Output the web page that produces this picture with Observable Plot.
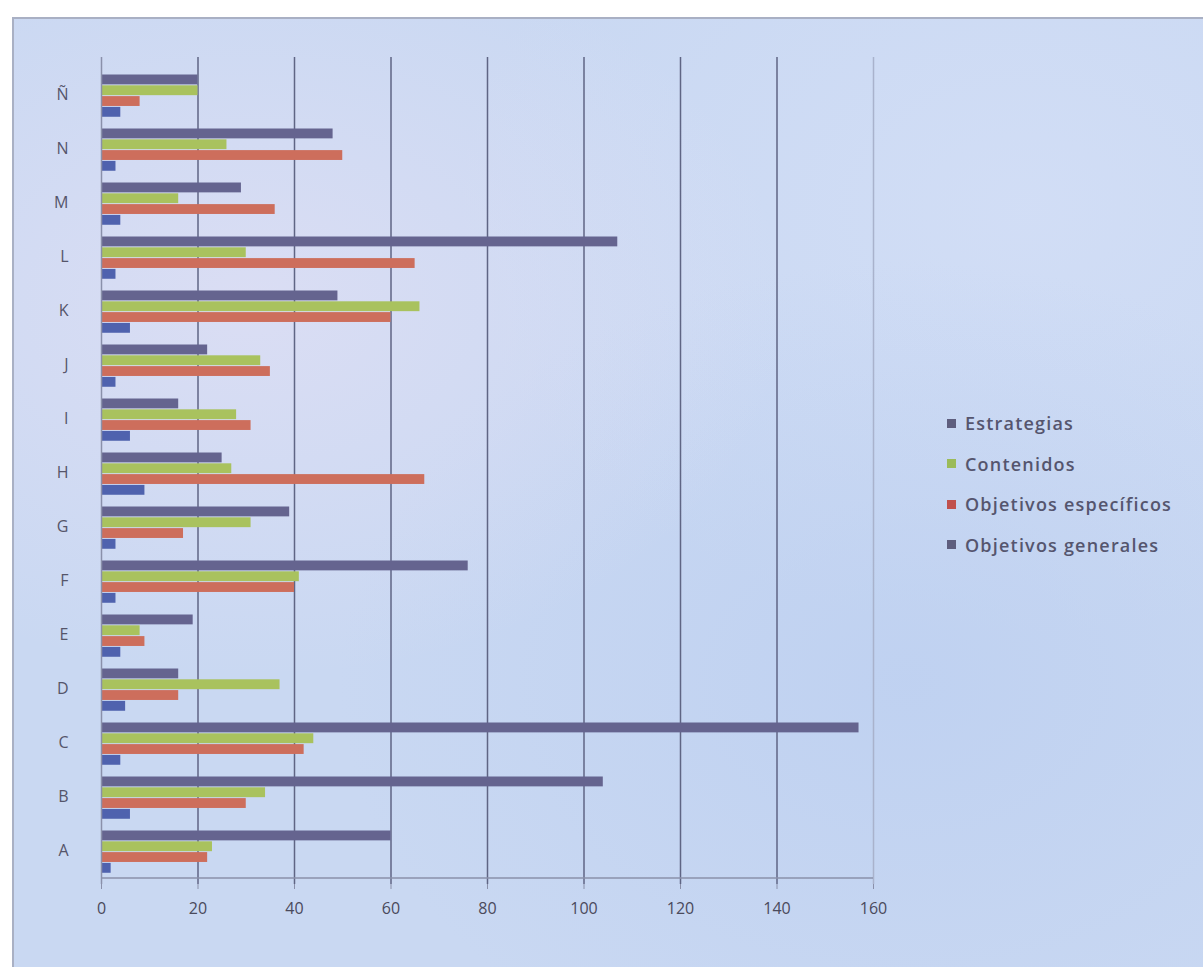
<!DOCTYPE html>
<html>
<head>
<meta charset="utf-8">
<script src="https://cdn.jsdelivr.net/npm/d3@7"></script>
<script src="https://cdn.jsdelivr.net/npm/@observablehq/plot@0.6"></script>
<style>
  html, body { margin: 0; padding: 0; background: #ffffff; width: 1203px; height: 967px; overflow: hidden; }
  #box {
    position: absolute; left: 12px; top: 17px; width: 1191px; height: 950px;
    border-left: 2px solid #a9b0c4; border-top: 2px solid #a9b0c4;
    background:
      radial-gradient(ellipse at 20% 30%, rgba(230,225,245,0.6), rgba(0,0,0,0) 40%),
      radial-gradient(ellipse at 75% 70%, rgba(185,205,240,0.6), rgba(0,0,0,0) 45%),
      radial-gradient(ellipse at 85% 20%, rgba(215,225,248,0.6), rgba(0,0,0,0) 40%),
      #c9d8f2;
    box-sizing: border-box;
  }
  #chart { position: absolute; left: 0; top: 0; }
  #legend { position: absolute; left: 933px; top: 384px; font-family: "Open Sans", sans-serif; font-size: 18px; font-weight: 600; letter-spacing: 1.2px; color: #55556e; }
  .row { display: flex; align-items: center; height: 40.5px; white-space: nowrap; }
  .sw { width: 9px; height: 9px; margin-right: 9px; }
</style>
</head>
<body>
<div id="box"><div id="chart"></div><div id="legend"></div></div>
<script>
const categories = ["A","B","C","D","E","F","G","H","I","J","K","L","M","N","Ñ"];
const estrategias = [60,104,157,16,19,76,39,25,16,22,49,107,29,48,20];
const contenidos = [23,34,44,37,8,41,31,27,28,33,66,30,16,26,20];
const objetivosEspecificos = [22,30,42,16,9,40,17,67,31,35,60,65,36,50,8];
const objetivosGenerales = [2,6,4,5,4,3,3,9,6,3,6,3,4,3,4];
const seriesNames = ["Estrategias","Contenidos","Objetivos específicos","Objetivos generales"];
const xTicks = [0,20,40,60,80,100,120,140,160];

const barColors = ["#65648f","#a9c25e","#cd6e5c","#4f62ae"];
const legendColors = ["#5e5e7e","#9bbb59","#c0504d","#5e5e7e"];
const seriesValues = [estrategias, contenidos, objetivosEspecificos, objetivosGenerales];

const height = 940, marginTop = 41, marginBottom = 75;
const bw = (height - marginTop - marginBottom) / categories.length;
const pad = 7.5, bh = 10.8;

const barMarks = seriesValues.map((vals, i) =>
  Plot.barX(categories.map((c, j) => ({cat: c, value: vals[j]})), {
    y: "cat", x: "value", fill: barColors[i],
    insetTop: pad + bh * i,
    insetBottom: bw - pad - bh * (i + 1)
  })
);

const plot = Plot.plot({
  width: 879,
  height,
  marginLeft: 87,
  marginRight: 20,
  marginTop,
  marginBottom,
  style: { background: "transparent", fontFamily: "Open Sans, sans-serif" },
  x: { domain: [0, 160], ticks: xTicks },
  y: { domain: categories.slice().reverse(), padding: 0 },
  marks: [
    Plot.ruleX(xTicks.filter(t => t > 0 && t < 160), { stroke: "#5f6584", strokeWidth: 1.5, insetTop: -3 }),
    Plot.ruleX([160], { stroke: "#a9b2cc", strokeWidth: 1.5, insetTop: -3 }),
    ...barMarks,
    Plot.ruleX([0], { stroke: "#8a90aa", strokeWidth: 1.5, insetTop: -3 }),
    Plot.ruleY(["A"], { stroke: "#8a90aa", strokeWidth: 1.5, dy: bw / 2 }),
    Plot.axisX({ ticks: xTicks, tickSize: 5, tickPadding: 13, stroke: "#8a90aa", color: "#4a4a5c", fontSize: 16, label: null }),
    Plot.axisY({ tickSize: 0, tickPadding: 33, color: "#55556a", fontSize: 16, label: null })
  ]
});
document.getElementById("chart").appendChild(plot);

const legend = document.getElementById("legend");
seriesNames.forEach((name, i) => {
  const row = document.createElement("div");
  row.className = "row";
  const sw = document.createElement("div");
  sw.className = "sw";
  sw.style.background = legendColors[i];
  const t = document.createElement("span");
  t.textContent = name;
  row.appendChild(sw); row.appendChild(t);
  legend.appendChild(row);
});
</script>
</body>
</html>
